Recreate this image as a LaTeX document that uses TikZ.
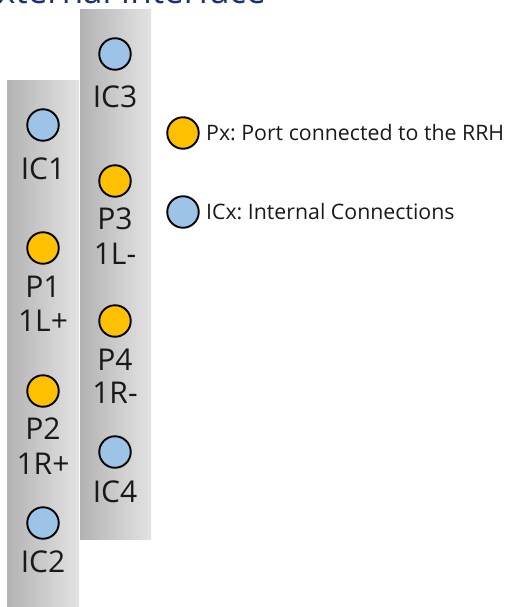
\documentclass[tikz,border=0pt]{standalone}
\usepackage{fontspec}
\setmainfont{Open Sans}
\frenchspacing
\begin{document}
\begin{tikzpicture}[x=1pt,y=-1pt,
  bar/.style={left color=black!30, right color=black!11, draw=none},
  port/.style={circle, draw=black, line width=1.9pt, fill=portorange, minimum size=31.5pt, inner sep=0pt},
  ic/.style={circle, draw=black, line width=1.9pt, fill=icblue, minimum size=31.5pt, inner sep=0pt},
  lbl/.style={anchor=base, inner sep=0pt, font=\fontsize{30}{34}\selectfont, text=black!90},
  leg/.style={anchor=base west, inner sep=0pt, font=\fontsize{21.3}{26}\selectfont, text=black!90}]
\definecolor{portorange}{HTML}{FFC000}
\definecolor{icblue}{HTML}{9DC3E6}
\definecolor{titleblue}{HTML}{1B3272}
\useasboundingbox (0,0) rectangle (509,607);
\clip (0,0) rectangle (509,607);
% title (cut off at the top)
\node[anchor=base east, inner sep=0pt, font=\fontsize{35}{40}\selectfont, text=titleblue] (title) at (266,4) {External Interface};
% bars
\shade[bar] (7,81) rectangle (79,607);
\shade[bar] (80,10) rectangle (151,539);
% left column
\node[ic] (ic1) at (43,125) {};
\node[lbl] (ic1l) at (43,179) {IC1};
\node[port] (p1) at (43,248) {};
\node[lbl] (p1l) at (43,297) {P1};
\node[lbl] (p1d) at (43,331) {1L+};
\node[port] (p2) at (43,391) {};
\node[lbl] (p2l) at (43,439) {P2};
\node[lbl] (p2d) at (43,474) {1R+};
\node[ic] (ic2) at (43,523) {};
\node[lbl] (ic2l) at (43,572) {IC2};
% right column
\node[ic] (ic3) at (115,54) {};
\node[lbl] (ic3l) at (115,108) {IC3};
\node[port] (p3) at (115,181) {};
\node[lbl] (p3l) at (115,229) {P3};
\node[lbl] (p3d) at (115,264) {1L-};
\node[port] (p4) at (115,321) {};
\node[lbl] (p4l) at (115,370) {P4};
\node[lbl] (p4d) at (115,403) {1R-};
\node[ic] (ic4) at (115,452) {};
\node[lbl] (ic4l) at (115,502) {IC4};
% legend
\node[port] (legp) at (183,133) {};
\node[leg] (legpt) at (206,140) {Px: Port connected to the RRH};
\node[ic] (legi) at (183,212) {};
\node[leg] (legit) at (206,219) {ICx: Internal Connections};
\end{tikzpicture}
\end{document}
